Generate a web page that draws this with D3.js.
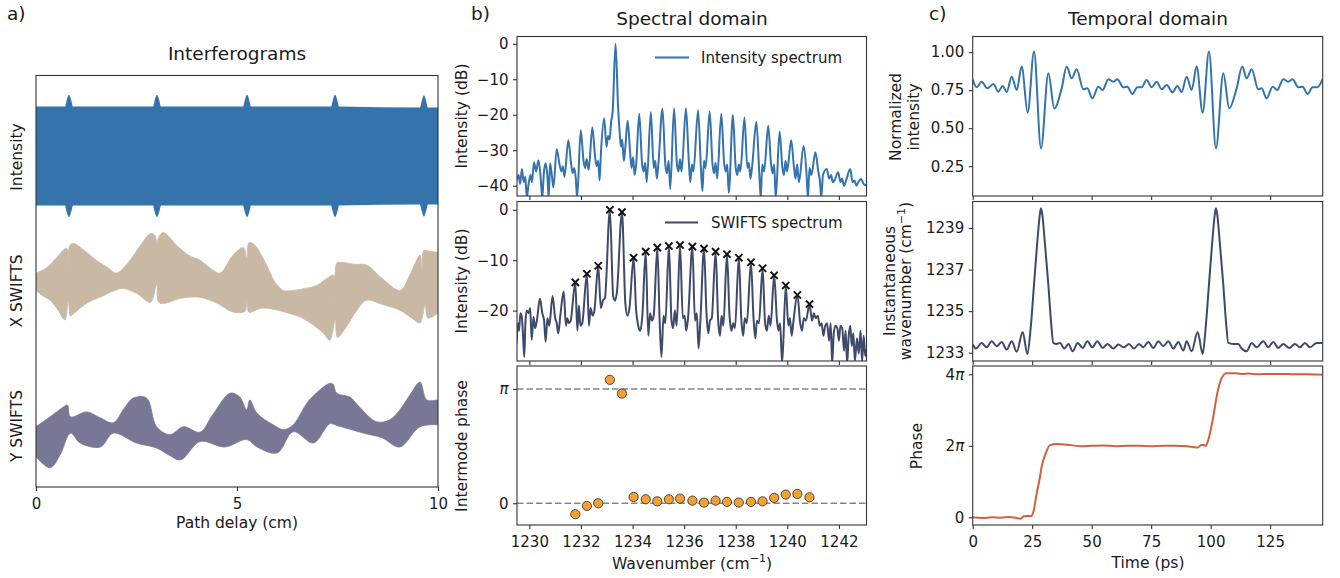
<!DOCTYPE html>
<html><head><meta charset="utf-8">
<script src="https://cdn.jsdelivr.net/npm/d3@7"></script>
<style>
body{margin:0;background:#fff}
text{font-family:"DejaVu Sans",sans-serif;fill:#1a1a1a}
</style>
</head><body>
<svg id="chart" width="1340" height="578"></svg>
<script>
// ---------------- DATA ----------------
// a) Interferograms: envelopes [path delay cm, arbitrary units]
const intensityEnvelope = [[0,1.0],[0.72,1.0],[0.76,1.12],[0.82,1.24],[0.88,1.12],[0.92,1.0],[2.91,1.0],[2.95,1.12],[3.01,1.24],[3.07,1.12],[3.11,1.0],[5.15,1.0],[5.19,1.12],[5.25,1.24],[5.31,1.12],[5.35,1.0],[7.34,1.0],[7.38,1.12],[7.44,1.24],[7.5,1.12],[7.54,1.0],[9.55,0.98],[9.59,1.1],[9.65,1.23],[9.71,1.1],[9.75,0.98],[10,0.98]];
const xSwiftsUpper = [[0,-2.37],[0.25,-2.27],[0.5,-2.07],[0.76,-1.87],[0.8,-2.27],[0.84,-1.81],[0.93,-1.77],[1.2,-1.91],[1.5,-2.11],[1.8,-2.27],[2.0,-2.37],[2.3,-2.15],[2.6,-1.81],[2.85,-1.57],[2.96,-1.61],[3.0,-2.62],[3.04,-1.67],[3.17,-1.55],[3.5,-1.81],[3.8,-2.01],[4.08,-2.11],[4.4,-2.31],[4.58,-2.37],[4.9,-2.01],[5.16,-1.85],[5.24,-2.07],[5.3,-1.75],[5.45,-1.81],[5.7,-2.15],[5.95,-2.56],[6.15,-2.72],[6.4,-2.72],[6.7,-2.68],[6.98,-2.62],[7.25,-2.47],[7.4,-2.41],[7.44,-2.92],[7.48,-2.17],[7.57,-2.15],[7.9,-2.19],[8.23,-2.21],[8.6,-2.47],[9.06,-2.72],[9.3,-2.41],[9.55,-2.01],[9.6,-2.31],[9.65,-1.91],[9.8,-1.93],[10,-1.95]];
const xSwiftsLower = [[0,-2.72],[0.15,-2.82],[0.35,-2.92],[0.55,-3.12],[0.72,-3.32],[0.8,-2.92],[0.86,-3.24],[0.95,-3.18],[1.3,-2.96],[1.59,-2.86],[1.9,-2.74],[2.17,-2.68],[2.5,-2.78],[2.85,-2.96],[3.0,-2.58],[3.05,-2.96],[3.2,-2.98],[3.6,-2.88],[4.08,-2.86],[4.5,-2.98],[4.91,-3.16],[5.2,-3.14],[5.24,-2.92],[5.3,-3.16],[5.6,-3.08],[5.9,-3.1],[6.2,-3.16],[6.57,-3.26],[6.9,-3.42],[7.15,-3.59],[7.31,-3.73],[7.44,-3.32],[7.5,-3.67],[7.7,-3.48],[7.95,-3.16],[8.22,-2.92],[8.6,-3.0],[9.05,-3.12],[9.35,-3.28],[9.55,-3.38],[9.68,-3.02],[9.75,-3.28],[10,-3.18]];
const ySwiftsUpper = [[0,-5.48],[0.35,-5.28],[0.68,-5.08],[0.78,-5.04],[0.86,-5.28],[1.26,-5.18],[1.6,-5.3],[1.92,-5.4],[2.2,-5.1],[2.42,-4.9],[2.75,-4.9],[3.0,-5.48],[3.33,-5.64],[3.67,-5.48],[4.08,-5.59],[4.4,-5.23],[4.83,-4.8],[5.07,-4.88],[5.24,-5.14],[5.32,-4.94],[5.49,-5.2],[5.9,-5.44],[6.16,-5.54],[6.4,-5.44],[6.8,-4.94],[7.31,-4.6],[7.39,-4.62],[7.48,-4.8],[7.81,-4.88],[8.0,-5.04],[8.47,-5.38],[8.8,-5.34],[9.05,-5.14],[9.3,-4.84],[9.55,-4.58],[9.72,-4.94],[9.97,-4.94],[10,-4.94]];
const ySwiftsLower = [[0,-6.09],[0.35,-6.31],[0.6,-6.05],[0.86,-5.61],[1.1,-5.81],[1.6,-5.89],[1.92,-5.61],[2.5,-5.81],[3.0,-5.91],[3.3,-6.05],[3.6,-6.15],[4.08,-5.78],[4.7,-5.89],[5.24,-5.74],[5.5,-5.89],[6.0,-6.01],[6.4,-5.58],[6.9,-5.81],[7.31,-5.42],[7.5,-5.46],[8.2,-5.62],[8.6,-5.7],[9.05,-5.89],[9.55,-5.48],[10,-5.44]];

// b) Spectral domain: [wavenumber cm^-1, dB]
const intensitySpectrum = [[1229.5,-38.5],[1229.58,-37],[1229.64,-39.5],[1229.71,-35.3],[1229.78,-39],[1229.84,-37.5],[1229.9,-43.5],[1229.96,-40],[1230.04,-37],[1230.1,-39],[1230.18,-33.4],[1230.26,-36],[1230.35,-32.8],[1230.43,-37],[1230.5,-43.5],[1230.56,-36.5],[1230.63,-33.7],[1230.7,-37.5],[1230.75,-43.5],[1230.8,-33.7],[1230.87,-37],[1230.93,-40.5],[1231.06,-29.7],[1231.17,-34],[1231.24,-36],[1231.3,-34.5],[1231.36,-37.5],[1231.51,-27.2],[1231.62,-34],[1231.68,-36.5],[1231.74,-35],[1231.8,-38],[1231.85,-43.5],[1231.99,-24.4],[1232.1,-33],[1232.16,-35],[1232.22,-32.5],[1232.3,-35.5],[1232.44,-23.6],[1232.55,-32],[1232.61,-34.5],[1232.67,-33],[1232.72,-38.5],[1232.78,-30],[1232.9,-21.0],[1232.99,-29],[1233.05,-26],[1233.11,-27],[1233.17,-22],[1233.23,-19],[1233.34,0],[1233.44,-18],[1233.5,-25],[1233.55,-29],[1233.6,-27],[1233.66,-33],[1233.71,-30],[1233.81,-21.7],[1233.9,-30],[1233.96,-35],[1234.02,-32],[1234.08,-37],[1234.14,-34],[1234.26,-19.7],[1234.37,-34],[1234.43,-36],[1234.49,-33.5],[1234.55,-39],[1234.71,-19.2],[1234.82,-35],[1234.88,-33],[1234.94,-38],[1235.0,-34],[1235.16,-18.3],[1235.27,-34],[1235.33,-36.5],[1235.4,-33],[1235.46,-41],[1235.61,-18.2],[1235.72,-34],[1235.78,-36],[1235.84,-32.5],[1235.9,-36],[1236.07,-18.2],[1236.18,-33],[1236.24,-39],[1236.3,-34],[1236.36,-36],[1236.54,-18.7],[1236.65,-35],[1236.71,-41.5],[1236.77,-33],[1236.83,-35],[1236.99,-19.1],[1237.1,-34],[1237.16,-36.5],[1237.22,-33.5],[1237.28,-38],[1237.44,-19.7],[1237.55,-33.5],[1237.61,-36],[1237.67,-34],[1237.73,-42],[1237.89,-20.1],[1238.0,-35],[1238.06,-37],[1238.12,-34],[1238.18,-36],[1238.34,-20.8],[1238.45,-35],[1238.51,-33.5],[1238.57,-38],[1238.63,-35],[1238.8,-22.0],[1238.91,-36],[1238.97,-43.5],[1239.03,-34],[1239.1,-36],[1239.26,-23.1],[1239.37,-34],[1239.43,-36.5],[1239.49,-34],[1239.55,-43.5],[1239.7,-24.7],[1239.81,-35],[1239.87,-37],[1239.93,-33],[1239.99,-36],[1240.15,-27.2],[1240.26,-35],[1240.32,-38],[1240.38,-34],[1240.45,-39],[1240.63,-28.8],[1240.74,-36],[1240.8,-43.5],[1240.86,-35],[1240.93,-37],[1241.09,-30.6],[1241.2,-36],[1241.26,-38.5],[1241.32,-43.5],[1241.38,-37],[1241.53,-35.3],[1241.62,-38],[1241.7,-37],[1241.76,-39],[1241.83,-38.5],[1241.97,-36.2],[1242.06,-39],[1242.12,-38],[1242.2,-40],[1242.28,-38.5],[1242.44,-35.3],[1242.53,-39],[1242.6,-38.5],[1242.68,-40],[1242.75,-39],[1242.86,-38.1],[1242.96,-39.5],[1243.1,-40]];
const swiftsSpectrum = [[1229.5,-26.5],[1229.56,-22.5],[1229.6,-24],[1229.65,-20.5],[1229.7,-21],[1229.75,-24.5],[1229.8,-29.2],[1229.85,-22],[1229.9,-20],[1229.97,-20.5],[1230.03,-19.5],[1230.09,-25.8],[1230.16,-21.2],[1230.22,-23.5],[1230.29,-22],[1230.41,-17.6],[1230.5,-20.5],[1230.57,-22],[1230.63,-26.2],[1230.7,-21.5],[1230.77,-23],[1230.9,-17.1],[1231.0,-21.5],[1231.06,-22.5],[1231.12,-24.5],[1231.2,-21],[1231.33,-16.2],[1231.42,-23],[1231.47,-21.5],[1231.53,-22.5],[1231.6,-22],[1231.78,-14.4],[1231.86,-24],[1231.92,-19],[1231.98,-23],[1232.05,-22.5],[1232.23,-12.7],[1232.31,-23],[1232.37,-19.5],[1232.45,-21],[1232.52,-20],[1232.67,-11.1],[1232.77,-19.5],[1232.85,-18],[1232.93,-17.5],[1233.12,0],[1233.25,-17.2],[1233.32,-18],[1233.39,-16.5],[1233.59,-0.46],[1233.72,-18.5],[1233.8,-21],[1233.88,-19.5],[1234.04,-9.5],[1234.14,-20],[1234.22,-23],[1234.3,-24],[1234.38,-21],[1234.51,-8.3],[1234.61,-25],[1234.68,-20.5],[1234.75,-22],[1234.82,-21],[1234.96,-7.5],[1235.05,-22],[1235.12,-29.2],[1235.2,-21],[1235.27,-22.5],[1235.41,-7.2],[1235.51,-22],[1235.57,-23.5],[1235.64,-20],[1235.71,-23],[1235.84,-7.0],[1235.95,-21.5],[1236.02,-21],[1236.08,-24],[1236.15,-21.5],[1236.32,-7.3],[1236.42,-22],[1236.49,-20.5],[1236.56,-27.5],[1236.63,-22],[1236.77,-7.7],[1236.87,-21],[1236.94,-24.5],[1237.0,-22],[1237.07,-21.5],[1237.22,-8.3],[1237.32,-22],[1237.39,-25],[1237.45,-21],[1237.52,-23],[1237.66,-8.8],[1237.76,-21],[1237.83,-24],[1237.9,-22.5],[1237.97,-23.5],[1238.12,-9.5],[1238.22,-22],[1238.29,-25],[1238.35,-21.5],[1238.43,-22.5],[1238.59,-10.4],[1238.69,-21.5],[1238.76,-25.5],[1238.82,-22],[1238.9,-22.5],[1239.04,-11.6],[1239.14,-22.5],[1239.21,-24],[1239.28,-21],[1239.35,-23],[1239.49,-13.0],[1239.6,-22],[1239.66,-24],[1239.72,-22.5],[1239.8,-30.5],[1239.94,-15.0],[1240.04,-23],[1240.1,-21.5],[1240.17,-25],[1240.24,-22],[1240.39,-16.9],[1240.5,-22.5],[1240.57,-24],[1240.64,-21.5],[1240.72,-22],[1240.86,-18.7],[1240.96,-22],[1241.03,-20.5],[1241.1,-21.5],[1241.18,-21],[1241.26,-23],[1241.33,-22.5],[1241.4,-25],[1241.47,-23],[1241.54,-22.5],[1241.62,-26],[1241.68,-22.5],[1241.74,-30.5],[1241.8,-24.5],[1241.87,-23],[1241.94,-23.5],[1242.0,-26],[1242.06,-23],[1242.13,-23.5],[1242.2,-28],[1242.26,-24],[1242.32,-30.5],[1242.38,-25],[1242.44,-23],[1242.5,-27],[1242.56,-24.5],[1242.62,-30],[1242.7,-25.5],[1242.77,-28.5],[1242.84,-24],[1242.9,-30],[1242.96,-25],[1243.02,-29],[1243.1,-27]];
const modeWavenumbers = [1231.78,1232.23,1232.67,1233.12,1233.59,1234.04,1234.51,1234.96,1235.41,1235.84,1236.32,1236.77,1237.22,1237.66,1238.12,1238.59,1239.04,1239.49,1239.94,1240.39,1240.86];
const swiftsPeakDb = [-14.4,-12.7,-11.1,0,-0.46,-9.5,-8.3,-7.5,-7.2,-7.0,-7.3,-7.7,-8.3,-8.8,-9.5,-10.4,-11.6,-13.0,-15.0,-16.9,-18.7];
const intermodePhasePi = [-0.096,-0.023,0.0,1.079,0.959,0.055,0.035,0.017,0.035,0.041,0.023,0.006,0.023,0.012,0.006,0.012,0.017,0.047,0.076,0.082,0.052];

// c) Temporal domain: [time ps, value]
const normIntensity = [[0,0.822],[1.68,0.769],[3.78,0.806],[6.16,0.762],[8.68,0.791],[10.78,0.740],[12.61,0.778],[14.29,0.738],[16.39,0.839],[18.49,0.751],[20.59,0.905],[23.11,0.602],[25.77,1.004],[28.71,0.367],[31.79,0.861],[34.31,0.630],[37.39,0.762],[39.5,0.905],[41.6,0.828],[43.7,0.888],[46.5,0.756],[48.18,0.762],[50.28,0.696],[52.8,0.773],[54.62,0.751],[57.0,0.822],[59.1,0.806],[60.78,0.822],[63.31,0.769],[64.99,0.773],[67.09,0.725],[69.19,0.769],[71.01,0.769],[73.11,0.817],[75.21,0.769],[77.31,0.806],[79.41,0.756],[81.51,0.784],[84.03,0.736],[86.0,0.778],[87.82,0.738],[89.92,0.839],[92.02,0.751],[94.12,0.905],[96.64,0.602],[99.3,1.004],[102.24,0.367],[105.32,0.861],[107.84,0.630],[110.92,0.762],[113.31,0.905],[115.13,0.828],[117.23,0.888],[120.03,0.756],[121.43,0.762],[123.53,0.696],[126.05,0.773],[128.01,0.751],[130.53,0.822],[132.63,0.806],[134.45,0.822],[136.83,0.769],[138.66,0.773],[140.76,0.725],[142.86,0.769],[144.82,0.769],[147.06,0.822]];
const instWavenumber = [[0,1233.39],[1.4,1233.2],[3.78,1233.47],[5.88,1233.26],[7.98,1233.55],[10.08,1233.31],[12.18,1233.52],[14.29,1233.15],[16.39,1233.55],[18.49,1233.04],[21.01,1234.0],[22.97,1232.94],[24.37,1234.19],[25.77,1236.28],[27.17,1238.36],[28.29,1239.72],[28.71,1239.96],[29.27,1239.64],[30.39,1238.2],[31.79,1236.28],[32.91,1234.51],[33.89,1233.47],[35.29,1233.42],[36.69,1233.47],[38.52,1233.2],[40.2,1233.42],[42.02,1233.07],[44.12,1233.47],[46.22,1233.23],[48.18,1233.55],[50.28,1233.26],[52.38,1233.55],[54.62,1233.23],[56.72,1233.42],[59.1,1233.2],[61.2,1233.39],[63.59,1233.26],[65.69,1233.42],[67.79,1233.2],[69.89,1233.42],[71.71,1233.26],[73.81,1233.52],[75.91,1233.23],[78.01,1233.55],[80.11,1233.31],[82.21,1233.55],[84.31,1233.2],[86.41,1233.52],[88.52,1233.1],[89.92,1233.55],[92.02,1233.07],[94.54,1234.0],[96.64,1232.94],[97.9,1234.19],[99.3,1236.28],[100.7,1238.36],[101.82,1239.72],[102.24,1239.96],[102.8,1239.64],[103.92,1238.2],[105.32,1236.28],[106.44,1234.51],[107.42,1233.47],[109.52,1233.42],[111.62,1233.42],[113.03,1233.2],[115.13,1233.07],[117.23,1233.47],[119.33,1233.26],[122.13,1233.55],[124.23,1233.26],[126.33,1233.52],[128.43,1233.23],[130.53,1233.42],[133.05,1233.23],[135.43,1233.42],[137.54,1233.26],[139.64,1233.47],[141.74,1233.26],[144.54,1233.47],[147.06,1233.47]];
const temporalPhasePi = [[0,0.0],[4,-0.02],[8,0.0],[12,-0.01],[15,0.01],[18,-0.01],[20,-0.04],[21.5,0.03],[23,0.04],[24.4,0.03],[25.5,0.15],[26.9,0.67],[28.2,1.1],[29.0,1.42],[30.7,1.79],[32.5,2.02],[35.3,2.05],[40,2.03],[45,1.99],[50,2.0],[55,2.01],[60,1.99],[65,2.0],[70,2.0],[75,1.99],[80,2.0],[85,2.0],[90,1.99],[93,1.96],[94.5,1.95],[96.3,2.03],[98,2.0],[99,2.16],[101.1,2.81],[102.8,3.47],[104.6,3.89],[106.7,4.03],[110,4.03],[113,4.01],[116,4.02],[120,4.0],[125,4.01],[130,4.01],[135,4.0],[140,4.0],[147,3.99]];

// tick values
const delayTicks = [0,5,10];
const wnTicks = [1230,1232,1234,1236,1238,1240,1242];
const intDbTicks = [0,-10,-20,-30,-40];
const swDbTicks = [0,-10,-20];
const intermodeTicks = [0,1];
const timeTicks = [0,25,50,75,100,125];
const normTicks = [0.25,0.5,0.75,1.0];
const instTicks = [1233,1235,1237,1239];
const phaseTicks = [0,2,4];

// ---------------- DRAWING ----------------
const svg = d3.select('#chart');
const TICK_FS = 15, LABEL_FS = 15.5, TITLE_FS = 18.5;
const COL = {blue:'#3473ab', tan:'#c9b8a4', purple:'#787896', navy:'#3f4a6b', orange:'#d2603a', dot:'#f5a031', frame:'#333'};
let clipN = 0;
function panel(x0,x1,y0,y1,xd,yd){
  const x = d3.scaleLinear().domain(xd).range([x0,x1]);
  const y = d3.scaleLinear().domain(yd).range([y1,y0]);
  const id = 'clip'+(clipN++);
  svg.append('clipPath').attr('id',id).append('rect').attr('x',x0).attr('y',y0).attr('width',x1-x0).attr('height',y1-y0);
  const g = svg.append('g').attr('clip-path',`url(#${id})`);
  return {x,y,g,x0,x1,y0,y1};
}
function frame(p){
  svg.append('rect').attr('x',p.x0).attr('y',p.y0).attr('width',p.x1-p.x0).attr('height',p.y1-p.y0)
    .attr('fill','none').attr('stroke',COL.frame).attr('stroke-width',1.1);
}
function styleAxis(g){
  g.attr('font-family','DejaVu Sans').attr('font-size',TICK_FS);
  g.select('.domain').remove();
  g.selectAll('line').attr('stroke',COL.frame).attr('stroke-width',1.1);
  g.selectAll('text').attr('fill','#1a1a1a');
}
function xAxis(p,ticks,labels,fmt){
  const ax = d3.axisBottom(p.x).tickValues(ticks).tickSize(4).tickPadding(7.5).tickFormat(labels ? (fmt||d3.format('d')) : ()=> '');
  const g = svg.append('g').attr('transform',`translate(0,${p.y1})`).call(ax);
  styleAxis(g); return g;
}
function yAxis(p,ticks,fmt){
  const ax = d3.axisLeft(p.y).tickValues(ticks).tickSize(4).tickPadding(4.5).tickFormat(fmt);
  const g = svg.append('g').attr('transform',`translate(${p.x0},0)`).call(ax);
  styleAxis(g); return g;
}
function piLabels(g){
  g.selectAll('.tick text').each(function(d){
    const t = d3.select(this); t.text(null);
    if (d === 0) { t.text('0'); return; }
    if (d !== 1) t.append('tspan').text(d);
    t.append('tspan').attr('font-style','italic').text('π');
  });
}
function yLabel(lines,x,yc){
  lines.forEach(l=>{
    const t = svg.append('text').attr('transform',`translate(${l.x},${yc}) rotate(-90)`)
      .attr('text-anchor','middle').attr('font-size',LABEL_FS);
    l.parts.forEach(pt=>{
      const s = t.append('tspan').text(pt.t);
      if (pt.sup) s.attr('font-size',11).attr('dy','-0.55em');
      if (pt.after) s.attr('dy','0.4em');
    });
  });
}
function textAt(str,x,y,fs,anchor){
  return svg.append('text').attr('x',x).attr('y',y).attr('font-size',fs).attr('text-anchor',anchor||'start').text(str);
}
const mono = d3.curveMonotoneX;

// ----- a) -----
const pa = panel(36,438,75.5,487,[0,10],[-6.7,1.63]);
pa.g.append('path').datum(intensityEnvelope).attr('fill',COL.blue)
  .attr('d', d3.area().x(d=>pa.x(d[0])).y0(d=>pa.y(-d[1])).y1(d=>pa.y(d[1])).curve(mono));
function envArea(up,low,color){
  const ln = d3.line().x(d=>pa.x(d[0])).y(d=>pa.y(d[1])).curve(d3.curveCatmullRom.alpha(0.5));
  const dUp = ln(up), dLow = ln(low.slice().reverse());
  pa.g.append('path').attr('fill',color).attr('stroke',color).attr('stroke-width',0.8)
    .attr('d', dUp + 'L' + dLow.slice(1) + 'Z');
}
envArea(xSwiftsUpper,xSwiftsLower,COL.tan);
envArea(ySwiftsUpper,ySwiftsLower,COL.purple);
frame(pa);
xAxis(pa,delayTicks,true);
textAt('Path delay (cm)',237,528,LABEL_FS,'middle');
textAt('Interferograms',237,60,TITLE_FS,'middle');
textAt('a)',7,20,18.5);
yLabel([{x:22,parts:[{t:'Intensity'}]}],0,157);
yLabel([{x:22,parts:[{t:'X SWIFTS'}]}],0,291);
yLabel([{x:22,parts:[{t:'Y SWIFTS'}]}],0,426);

// ----- b) -----
const BX0 = 517, BX1 = 866.5, WND = [1229.52,1243.07];
const pb1 = panel(BX0,BX1,36.5,196,WND,[-42.9,2.05]);
pb1.g.append('path').datum(intensitySpectrum).attr('fill','none').attr('stroke',COL.blue).attr('stroke-width',2).attr('stroke-linejoin','round')
  .attr('d', d3.line().x(d=>pb1.x(d[0])).y(d=>pb1.y(d[1])).curve(mono));
frame(pb1);
xAxis(pb1,wnTicks,false);
yAxis(pb1,intDbTicks,d3.format('d'));
svg.append('line').attr('x1',655).attr('x2',689).attr('y1',57.5).attr('y2',57.5).attr('stroke',COL.blue).attr('stroke-width',2);
textAt('Intensity spectrum',701,63,15);

const pb2 = panel(BX0,BX1,201.5,361,WND,[-30,1.65]);
pb2.g.append('path').datum(swiftsSpectrum).attr('fill','none').attr('stroke',COL.navy).attr('stroke-width',2).attr('stroke-linejoin','round')
  .attr('d', d3.line().x(d=>pb2.x(d[0])).y(d=>pb2.y(d[1])).curve(mono));
pb2.g.selectAll('path.mk').data(modeWavenumbers).enter().append('path').attr('class','mk')
  .attr('transform',(d,i)=>`translate(${pb2.x(d)},${pb2.y(swiftsPeakDb[i])})`)
  .attr('d','M-3.6,-3.6L3.6,3.6M-3.6,3.6L3.6,-3.6').attr('stroke','#111').attr('stroke-width',1.9).attr('fill','none');
frame(pb2);
xAxis(pb2,wnTicks,false);
yAxis(pb2,swDbTicks,d3.format('d'));
svg.append('line').attr('x1',665).attr('x2',698).attr('y1',222.5).attr('y2',222.5).attr('stroke',COL.navy).attr('stroke-width',2);
textAt('SWIFTS spectrum',711,228,15);

const pb3 = panel(BX0,BX1,366,525,WND,[-0.19,1.2]);
[0,1].forEach(v=>{
  pb3.g.append('line').attr('x1',BX0).attr('x2',BX1).attr('y1',pb3.y(v)).attr('y2',pb3.y(v))
    .attr('stroke','#858585').attr('stroke-width',1.5).attr('stroke-dasharray','6.5,3');
});
pb3.g.selectAll('circle').data(modeWavenumbers).enter().append('circle')
  .attr('cx',d=>pb3.x(d)).attr('cy',(d,i)=>pb3.y(intermodePhasePi[i])).attr('r',4.6)
  .attr('fill',COL.dot).attr('stroke','#3a3a3a').attr('stroke-width',0.9);
frame(pb3);
xAxis(pb3,wnTicks,true);
piLabels(yAxis(pb3,intermodeTicks,d=>d));
{
  const t = textAt('',692,569,LABEL_FS,'middle');
  t.append('tspan').text('Wavenumber (cm');
  t.append('tspan').attr('font-size',11).attr('dy','-0.6em').text('−1');
  t.append('tspan').attr('dy','0.42em').text(')');
}
textAt('Spectral domain',692,24.5,TITLE_FS,'middle');
textAt('b)',471,20,18.5);
yLabel([{x:467,parts:[{t:'Intensity (dB)'}]}],0,116);
yLabel([{x:467,parts:[{t:'Intensity (dB)'}]}],0,281);
yLabel([{x:467,parts:[{t:'Intermode phase'}]}],0,446);

// ----- c) -----
const CX0 = 972.7, CX1 = 1322.7, TD = [0,147.1];
const pc1 = panel(CX0,CX1,36.5,196,TD,[0.054,1.103]);
pc1.g.append('path').datum(normIntensity).attr('fill','none').attr('stroke',COL.blue).attr('stroke-width',2)
  .attr('d', d3.line().x(d=>pc1.x(d[0])).y(d=>pc1.y(d[1])).curve(mono));
frame(pc1);
xAxis(pc1,timeTicks,false);
yAxis(pc1,normTicks,d3.format('.2f'));

const pc2 = panel(CX0,CX1,201.5,361,TD,[1232.6,1240.28]);
pc2.g.append('path').datum(instWavenumber).attr('fill','none').attr('stroke',COL.navy).attr('stroke-width',2)
  .attr('d', d3.line().x(d=>pc2.x(d[0])).y(d=>pc2.y(d[1])).curve(mono));
frame(pc2);
xAxis(pc2,timeTicks,false);
yAxis(pc2,instTicks,d3.format('d'));

const pc3 = panel(CX0,CX1,366,525,TD,[-0.215,4.232]);
pc3.g.append('path').datum(temporalPhasePi).attr('fill','none').attr('stroke',COL.orange).attr('stroke-width',2)
  .attr('d', d3.line().x(d=>pc3.x(d[0])).y(d=>pc3.y(d[1])).curve(mono));
frame(pc3);
xAxis(pc3,timeTicks,true);
piLabels(yAxis(pc3,phaseTicks,d=>d));
textAt('Time (ps)',1148,568,LABEL_FS,'middle');
textAt('Temporal domain',1148,24.5,TITLE_FS,'middle');
textAt('c)',929,20,18.5);
yLabel([{x:901,parts:[{t:'Normalized'}]},{x:919,parts:[{t:'intensity'}]}],0,117);
yLabel([{x:895,parts:[{t:'Instantaneous'}]},{x:911,parts:[{t:'wavenumber (cm'},{t:'−1',sup:true},{t:')',after:true}]}],0,281);
yLabel([{x:922,parts:[{t:'Phase'}]}],0,446);
</script>
</body></html>
